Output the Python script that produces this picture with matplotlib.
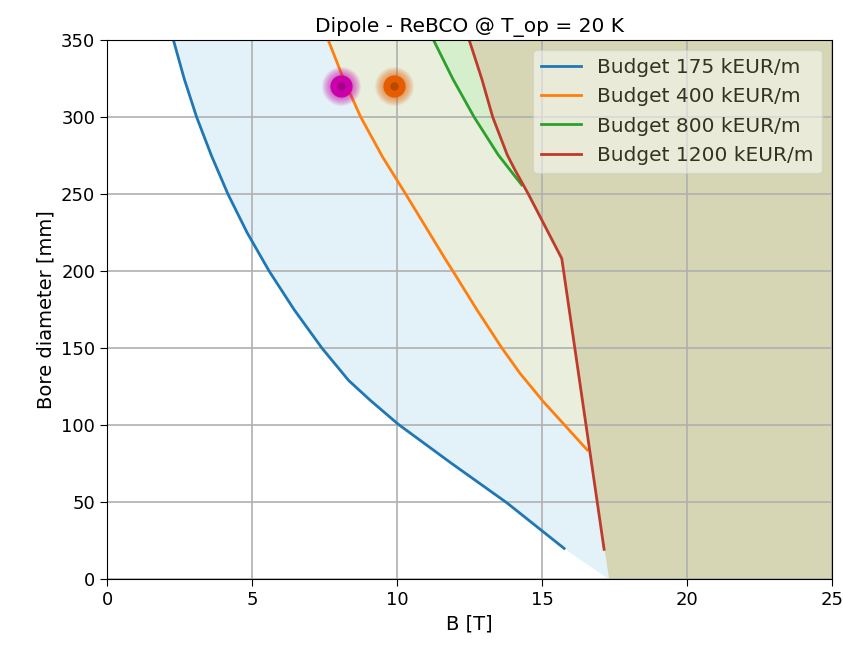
import matplotlib
matplotlib.use("Agg")
import matplotlib.pyplot as plt
import numpy as np

# Curves (B [T], bore diameter [mm])
b175_B = [2.29, 2.66, 3.09, 3.60, 4.17, 4.83, 5.59, 6.45, 7.41, 8.33, 9.07, 10.05, 11.88, 13.78, 15.76]
b175_D = [350, 325, 300, 275, 250, 225, 200, 175, 150, 129, 116.2, 100.4, 75.1, 49.6, 19.9]
b400_B = [7.63, 8.15, 8.75, 9.50, 10.30, 10.85, 11.69, 11.94, 12.75, 13.61, 14.24, 15.05, 16.56]
b400_D = [350, 325, 300, 274.2, 250, 233, 207, 199.6, 175, 150.2, 133.6, 115.1, 83.8]
b800_B = [11.26, 11.92, 12.66, 13.49, 14.3]
b800_D = [350, 325, 300, 275.5, 256]
b1200_B = [12.49, 12.92, 13.3, 13.8, 14.07, 14.53, 15.68, 17.14]
b1200_D = [350, 325, 300, 275.5, 265.6, 250, 208.2, 19.3]
edge_B = 17.3  # fill boundary at zero bore
labels = ["Budget 175 kEUR/m", "Budget 400 kEUR/m", "Budget 800 kEUR/m", "Budget 1200 kEUR/m"]
pts_B = [8.07, 9.9]
pts_D = [320, 320]
pts_col = ["#cc00aa", "#e65c00"]

fig = plt.figure(figsize=(8.43, 6.46), dpi=100)
ax = fig.add_axes([0.127, 0.1037, 0.86, 0.834])

xmax = 25
# fills
fb = b175_B + [edge_B]; fd = b175_D + [0]
ax.fill_betweenx(fd, fb, xmax, color="#e3f1f8", lw=0)
ax.fill_betweenx(b400_D, b400_B, xmax, color="#e9eedd", lw=0)
ax.fill_betweenx(b800_D, b800_B, xmax, color="#d5efcc", lw=0)
fb = b1200_B + [edge_B]; fd = b1200_D + [0]
ax.fill_betweenx(fd, fb, xmax, color="#d6d5b4", lw=0)

lw = 2.0
ax.plot(b175_B, b175_D, color="#1f77b4", lw=lw, label=labels[0])
ax.plot(b400_B, b400_D, color="#ff7f0e", lw=lw, label=labels[1])
ax.plot(b800_B, b800_D, color="#2ca02c", lw=lw, label=labels[2])
ax.plot(b1200_B, b1200_D, color="#c03a2b", lw=lw, label=labels[3])

for b, d, c in zip(pts_B, pts_D, pts_col):
    for ms in np.linspace(28, 17, 10):
        ax.plot([b], [d], 'o', color=c, ms=ms, alpha=0.07, mec='none', zorder=4)
    ax.plot([b], [d], 'o', color=c, ms=16, mec='none', zorder=5)
    ax.plot([b], [d], 'o', color='k', ms=6, alpha=0.2, mec='none', zorder=6)

ax.set_xlim(0, 25)
ax.set_ylim(0, 350)
ax.set_xticks([0, 5, 10, 15, 20, 25])
ax.set_yticks(range(0, 351, 50))
ax.grid(True, color="#b0b0b0", lw=1.2)
ax.tick_params(labelsize=13, length=5)
ax.set_xlabel("B [T]", fontsize=14)
ax.set_ylabel("Bore diameter [mm]", fontsize=14)
ax.set_title("Dipole - ReBCO @ T_op = 20 K", fontsize=14.5)
ax.legend(loc="upper right", fontsize=14.5, framealpha=0.5, labelcolor="#333322")

fig.savefig("out.png", dpi=100)
